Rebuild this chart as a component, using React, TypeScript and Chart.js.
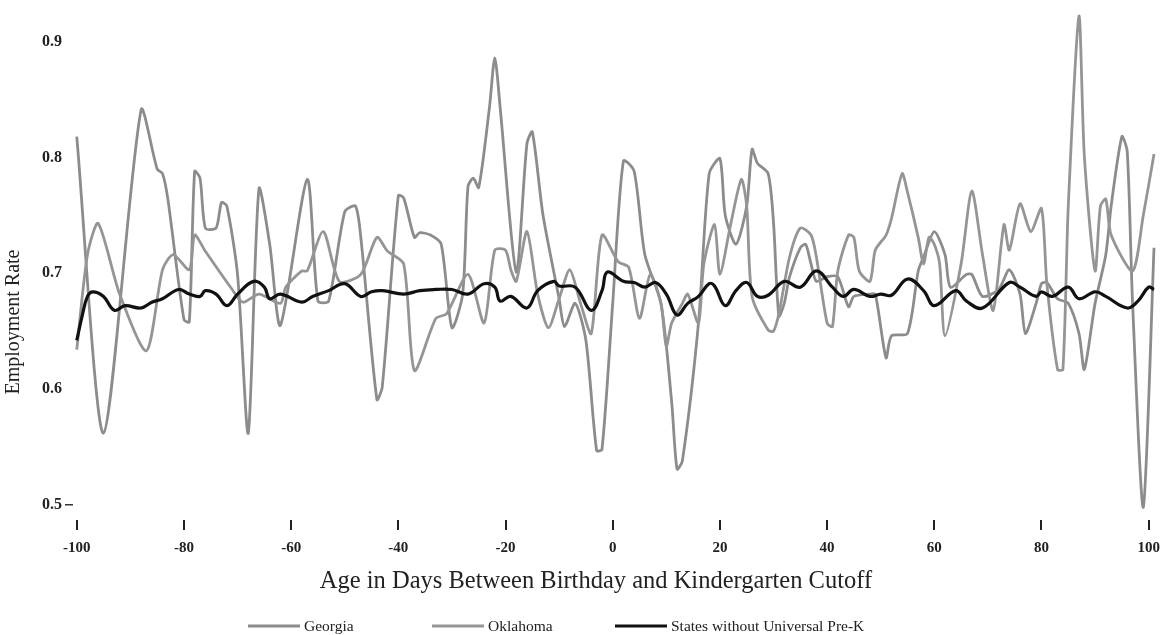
import React, { useEffect, useRef } from 'react';
import { Chart, registerables } from 'chart.js';

Chart.register(...registerables);

const xTickValues = [-100, -80, -60, -40, -20, 0, 20, 40, 60, 80, 100];
const yTickValues = [0.5, 0.6, 0.7, 0.8, 0.9];
const seriesNames = ['Georgia', 'Oklahoma', 'States without Universal Pre-K'];
const xAxisTitle = 'Age in Days Between Birthday and Kindergarten Cutoff';
const yAxisTitle = 'Employment Rate';

const georgiaDays = [-100, -95, -88, -85, -84, -83, -80, -79, -78, -77, -76, -74, -73, -72, -70, -68, -66, -64, -62, -57, -55, -53, -50, -48, -47, -44, -43, -40, -39, -37, -36, -34, -32, -30, -28, -27, -26, -25, -23, -22, -21, -18, -16, -15, -13, -10, -9, -7, -5, -3, -2, 0, 2, 4, 6, 9, 11, 12, 13, 16, 18, 20, 21, 23, 25, 26, 27, 29, 30, 31, 32, 33, 35, 36, 37, 38, 40, 42, 44, 45, 48, 49, 51, 52, 55, 57, 58, 60, 62, 63, 66, 67, 69, 72, 74, 76, 77, 79, 80, 81, 83, 85, 87, 88, 90, 92, 93, 95, 96, 97, 99, 101];
const georgiaRates = [0.818, 0.562, 0.841, 0.790, 0.786, 0.764, 0.660, 0.658, 0.788, 0.782, 0.739, 0.739, 0.761, 0.758, 0.699, 0.562, 0.773, 0.725, 0.655, 0.781, 0.676, 0.676, 0.753, 0.758, 0.731, 0.591, 0.602, 0.767, 0.765, 0.731, 0.735, 0.733, 0.725, 0.653, 0.682, 0.775, 0.782, 0.774, 0.843, 0.886, 0.843, 0.701, 0.812, 0.822, 0.750, 0.678, 0.654, 0.674, 0.642, 0.547, 0.548, 0.674, 0.797, 0.788, 0.716, 0.674, 0.589, 0.531, 0.538, 0.657, 0.786, 0.799, 0.750, 0.725, 0.758, 0.807, 0.795, 0.786, 0.744, 0.663, 0.674, 0.697, 0.722, 0.725, 0.708, 0.693, 0.697, 0.697, 0.671, 0.680, 0.682, 0.682, 0.627, 0.646, 0.648, 0.702, 0.714, 0.736, 0.716, 0.688, 0.699, 0.699, 0.680, 0.686, 0.703, 0.682, 0.648, 0.674, 0.691, 0.692, 0.678, 0.674, 0.648, 0.617, 0.674, 0.716, 0.758, 0.818, 0.805, 0.674, 0.498, 0.722];

const oklahomaDays = [-100, -98, -96, -92, -87, -84, -82, -79, -78, -76, -71, -69, -66, -62, -61, -58, -57, -54, -51, -47, -44, -42, -39, -37, -33, -31, -27, -24, -22, -20, -19, -18, -16, -14, -12, -10, -8, -6, -4, -2, 1, 3, 5, 7, 9, 10, 11, 13, 14, 16, 17, 19, 20, 22, 24, 25, 26, 29, 30, 31, 33, 35, 37, 38, 40, 41, 42, 44, 45, 46, 48, 49, 51, 52, 54, 55, 57, 58, 59, 60, 61, 62, 65, 67, 69, 71, 73, 74, 76, 78, 80, 81, 83, 84, 85, 87, 88, 90, 91, 92, 93, 97, 99, 101];
const oklahomaRates = [0.634, 0.716, 0.743, 0.682, 0.633, 0.703, 0.716, 0.703, 0.733, 0.719, 0.686, 0.675, 0.682, 0.674, 0.688, 0.702, 0.702, 0.736, 0.693, 0.699, 0.731, 0.719, 0.708, 0.616, 0.661, 0.665, 0.699, 0.657, 0.720, 0.720, 0.703, 0.693, 0.736, 0.682, 0.653, 0.678, 0.703, 0.674, 0.648, 0.733, 0.710, 0.705, 0.661, 0.699, 0.674, 0.637, 0.657, 0.674, 0.682, 0.657, 0.708, 0.742, 0.699, 0.742, 0.781, 0.758, 0.680, 0.651, 0.650, 0.665, 0.714, 0.739, 0.733, 0.714, 0.657, 0.654, 0.702, 0.733, 0.731, 0.702, 0.693, 0.720, 0.733, 0.747, 0.786, 0.770, 0.731, 0.708, 0.731, 0.725, 0.708, 0.646, 0.708, 0.771, 0.716, 0.668, 0.742, 0.720, 0.760, 0.736, 0.756, 0.691, 0.617, 0.617, 0.758, 0.922, 0.801, 0.702, 0.758, 0.764, 0.733, 0.702, 0.750, 0.803];

const statesDays = [-100, -99, -98, -97, -95, -93, -91, -88, -86, -84, -81, -79, -77, -76, -74, -72, -70, -67, -65, -64, -62, -58, -56, -53, -50, -47, -45, -43, -39, -36, -33, -30, -27, -24, -22, -21, -19, -16, -14, -11, -10, -7, -4, -2, -1, 2, 4, 6, 8, 10, 12, 14, 16, 18, 19, 21, 23, 25, 27, 29, 32, 35, 38, 41, 43, 45, 48, 50, 52, 55, 58, 60, 64, 66, 69, 74, 76, 79, 80, 82, 85, 87, 90, 92, 96, 98, 100, 101];
const statesRates = [0.642, 0.663, 0.680, 0.684, 0.680, 0.668, 0.672, 0.670, 0.675, 0.678, 0.686, 0.682, 0.680, 0.685, 0.682, 0.672, 0.682, 0.693, 0.688, 0.678, 0.682, 0.675, 0.680, 0.685, 0.691, 0.680, 0.684, 0.685, 0.682, 0.685, 0.686, 0.686, 0.682, 0.691, 0.688, 0.676, 0.680, 0.670, 0.685, 0.693, 0.689, 0.688, 0.668, 0.685, 0.701, 0.693, 0.692, 0.688, 0.692, 0.682, 0.664, 0.674, 0.680, 0.691, 0.689, 0.672, 0.685, 0.692, 0.680, 0.681, 0.693, 0.688, 0.702, 0.688, 0.680, 0.686, 0.680, 0.682, 0.681, 0.695, 0.685, 0.672, 0.685, 0.676, 0.670, 0.692, 0.688, 0.680, 0.684, 0.680, 0.688, 0.678, 0.684, 0.680, 0.670, 0.676, 0.688, 0.686];

const SERIF = '"Liberation Serif", "Times New Roman", Times, serif';

export default function App() {
  const canvasRef = useRef<HTMLCanvasElement | null>(null);

  useEffect(() => {
    const canvas = canvasRef.current;
    if (!canvas) return;
    const toPoints = (days: number[], rates: number[]) => days.map((d, i) => ({ x: d, y: rates[i] }));

    const titlesPlugin = {
      id: 'axisTitles',
      afterDraw(chart: any) {
        const ctx = chart.ctx;
        ctx.save();
        ctx.fillStyle = '#222';
        ctx.textAlign = 'center';
        ctx.textBaseline = 'middle';
        // x-axis title
        ctx.font = `24.5px ${SERIF}`;
        ctx.fillText(xAxisTitle, 596, 582);
        // y-axis title
        ctx.translate(14, 322);
        ctx.rotate(-Math.PI / 2);
        ctx.font = `20px ${SERIF}`;
        ctx.fillText(yAxisTitle, 0, 0);
        ctx.restore();
      },
    };

    const legendPlugin = {
      id: 'lineLegend',
      afterDraw(chart: any) {
        const ctx = chart.ctx;
        const items = chart.data.datasets;
        const starts = [248, 432, 615];
        const lineLen = 52;
        const y = 626;
        ctx.save();
        ctx.font = `15.5px ${SERIF}`;
        items.forEach((ds: any, i: number) => {
          const x = starts[i];
          ctx.strokeStyle = ds.borderColor;
          ctx.lineWidth = ds.borderWidth;
          ctx.beginPath();
          ctx.moveTo(x, y);
          ctx.lineTo(x + lineLen, y);
          ctx.stroke();
          ctx.fillStyle = '#222';
          ctx.textAlign = 'left';
          ctx.textBaseline = 'middle';
          ctx.fillText(ds.label, x + lineLen + 4, y + 1);
        });
        ctx.restore();
      },
    };

    const chart = new Chart(canvas, {
      type: 'line',
      data: {
        datasets: [
          {
            label: seriesNames[0],
            data: toPoints(georgiaDays, georgiaRates),
            borderColor: '#8c8c8c',
            borderWidth: 2.8,
            pointRadius: 0,
            tension: 0.25,
            fill: false,
            order: 2,
          },
          {
            label: seriesNames[1],
            data: toPoints(oklahomaDays, oklahomaRates),
            borderColor: '#959595',
            borderWidth: 2.8,
            pointRadius: 0,
            tension: 0.25,
            fill: false,
            order: 1,
          },
          {
            label: seriesNames[2],
            data: toPoints(statesDays, statesRates),
            borderColor: '#111111',
            borderWidth: 3.2,
            pointRadius: 0,
            tension: 0.4,
            fill: false,
            order: 0,
          },
        ],
      },
      options: {
        responsive: false,
        animation: false,
        devicePixelRatio: 1,
        layout: { padding: { top: 3.5, left: 0, right: 11, bottom: 69 } },
        plugins: {
          legend: { display: false },
          tooltip: { enabled: false },
        },
        scales: {
          x: {
            type: 'linear',
            min: -100.7,
            max: 101.5,
            afterBuildTicks: (axis: any) => {
              axis.ticks = xTickValues.map((v) => ({ value: v }));
            },
            afterFit: (axis: any) => {
              axis.height = 46;
            },
            border: { display: false },
            grid: {
              drawOnChartArea: false,
              drawTicks: true,
              tickLength: 10,
              color: '#222',
              lineWidth: 2,
            },
            ticks: {
              padding: 9,
              color: '#222',
              font: { family: SERIF, size: 15, weight: 'bold' },
              maxRotation: 0,
              callback: (v: any) => String(v),
            },
          },
          y: {
            type: 'linear',
            min: 0.487,
            max: 0.925,
            afterBuildTicks: (axis: any) => {
              axis.ticks = yTickValues.map((v) => ({ value: v }));
            },
            afterFit: (axis: any) => {
              axis.width = 73;
            },
            border: { display: false },
            grid: {
              drawOnChartArea: false,
              drawTicks: true,
              tickLength: 8,
              lineWidth: 1.5,
              color: (ctx: any) => (ctx.tick && ctx.tick.value === 0.5 ? '#333' : 'rgba(0,0,0,0)'),
            },
            ticks: {
              padding: 3,
              color: '#222',
              font: { family: SERIF, size: 16, weight: 'bold' },
              callback: (v: any) => Number(v).toFixed(1),
            },
          },
        },
      },
      plugins: [titlesPlugin, legendPlugin],
    });

    return () => chart.destroy();
  }, []);

  return (
    <div style={{ position: 'fixed', left: 0, top: 0, width: 1169, height: 635, background: '#ffffff' }}>
      <canvas ref={canvasRef} width={1169} height={635} style={{ display: 'block' }} />
    </div>
  );
}
